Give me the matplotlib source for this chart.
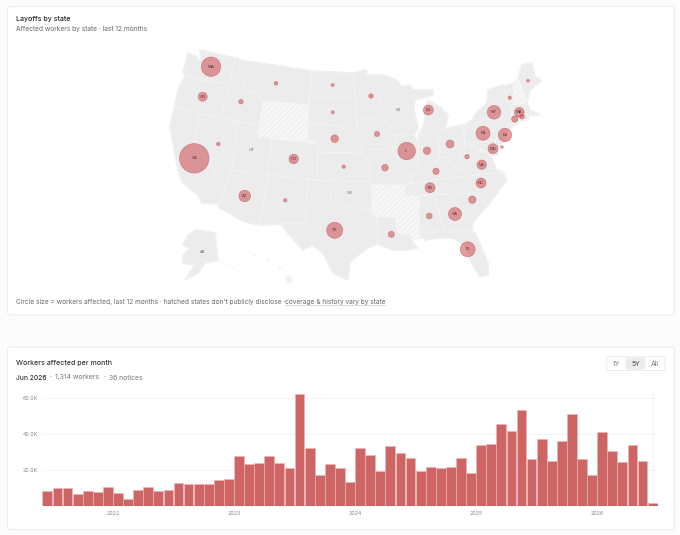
import matplotlib
matplotlib.use("Agg")
import matplotlib.pyplot as plt
from matplotlib.patches import Polygon, Circle, FancyBboxPatch
import numpy as np
import pandas as pd

plt.rcParams['font.family'] = ['Inter', 'DejaVu Sans']
plt.rcParams['hatch.linewidth'] = 0.3

#//////////////////////////////////////////////////////////////////////////////
# DATA

# monthly workers affected, in thousands, Jun 2021 to Jun 2026
monthly_workers = [8.1, 9.8, 9.6, 6.7, 8.0, 7.4, 10.4, 6.9, 3.9, 8.5, 10.4, 8.3, 8.9, 12.6, 12.2,
                   12.2, 11.9, 14.1, 14.8, 27.6, 23.3, 23.7, 27.8, 23.7, 20.9, 61.9, 32.0, 17.0,
                   23.3, 20.7, 13.1, 31.9, 28.1, 19.1, 33.0, 29.1, 26.3, 19.1, 21.3, 20.7, 21.5,
                   26.5, 18.0, 33.5, 34.3, 45.6, 41.5, 53.1, 25.7, 37.2, 24.6, 35.9, 50.7, 26.1,
                   17.2, 40.7, 30.2, 24.4, 33.5, 24.6, 1.3]
y_ticks = [20, 40, 60]
y_tick_labels = ['20.0K', '40.0K', '60.0K']

# workers affected by state, last 12 months, with the marker spot on the map
bubble_states = ['WA', 'OR', 'ID', 'MT', 'NV', 'CA', 'CO', 'AZ', 'NM', 'ND', 'SD', 'NE', 'KS', 'TX',
                 'MN', 'IA', 'MO', 'LA', 'IL', 'MI', 'IN', 'OH', 'KY', 'TN', 'AL', 'GA', 'FL', 'SC',
                 'NC', 'VA', 'WV', 'MD', 'DE', 'PA', 'NJ', 'NY', 'MA', 'CT', 'RI', 'VT', 'ME']
bubble_workers = [26100, 5600, 1340, 900, 900, 60000, 6100, 9300, 800, 625, 625, 4000, 800, 17800,
                  1340, 1880, 3000, 2500, 21000, 6900, 3800, 4400, 2800, 6900, 2300, 11700, 15600, 3800,
                  6900, 6100, 1340, 6900, 470, 13600, 12500, 12800, 6400, 2800, 1470, 800, 540]
bubble_x = [211, 202.7, 241, 276, 218.3, 194.3, 293.7, 244.7, 285.3, 332.7, 332.7, 334.7, 343.7, 334.7,
            371, 377, 385, 391.3, 406.7, 428.3, 427, 450, 436, 430, 429.3, 455, 467.7, 472.3,
            481, 481.7, 467, 493, 502, 483, 505, 494, 519.3, 514.7, 522, 509.7, 528]
bubble_y = [66.7, 96.7, 101.7, 83.3, 144, 158.3, 159, 196, 200.3, 85, 112.3, 138.7, 166.7, 230.3,
            96, 134, 167.7, 234.3, 151, 110, 150.7, 144, 171.3, 187.7, 216, 214, 249.3, 199.7,
            183, 164.7, 156.7, 148.7, 147, 133.3, 135, 112.3, 112.3, 119, 116.7, 97.7, 80.7]
quiet_states = ['UT', 'WI', 'OK', 'AK']
quiet_x = [251.7, 399, 349.3, 202.5]
quiet_y = [150, 110, 193, 252]
hatched_states = ['WY', 'AR', 'MS', 'NH']
faint_shapes = ['AKP', 'HI', 'HI2', 'HI3', 'HI4']

# state outlines, traced in image pixels
state_shapes = {
    'WA': [(200, 50), (235, 58), (230, 84), (215, 82), (200, 80), (185, 76), (183, 73), (188, 53), (197, 57), (199, 63), (201, 58)],
    'OR': [(185, 76), (200, 80), (215, 82), (230, 84), (230, 90), (224, 100), (222, 118), (200, 114), (175, 107), (178, 90)],
    'ID': [(235, 58), (240, 60), (239, 72), (245, 84), (247, 92), (257, 92), (263, 101), (260, 126), (222, 118), (224, 100), (230, 90), (230, 84)],
    'MT': [(240, 60), (312, 71), (309, 98), (308, 105), (263, 101), (257, 92), (247, 92), (245, 84), (239, 72)],
    'WY': [(263, 101), (308, 105), (307, 142), (258, 137)],
    'NV': [(200, 114), (222, 118), (238, 124), (232, 170), (228, 177), (225, 190), (195, 140)],
    'CA': [(175, 107), (200, 114), (195, 140), (225, 190), (220, 204), (202, 203), (199, 196), (182, 182), (178, 170), (170, 127), (172, 117)],
    'UT': [(238, 122), (260, 126), (258, 137), (272, 139), (268, 175), (232, 170)],
    'AZ': [(232, 170), (268, 175), (260, 225), (245, 222), (218, 207), (220, 204), (225, 190), (228, 177)],
    'CO': [(272, 139), (318, 144), (317, 180), (268, 175)],
    'NM': [(268, 175), (308, 179), (305, 223), (281, 222), (281, 224), (267, 225), (260, 225)],
    'TX': [(281, 224), (292, 238), (303, 250), (312, 245), (323, 253), (333, 273), (348, 280), (350, 262), (367, 248), (378, 244),
           (378, 233), (376, 217), (372, 210), (350, 207), (331, 203), (330, 182), (308, 179), (305, 223)],
    'OK': [(308, 179), (317, 180), (370, 182), (373, 216), (372, 210), (350, 207), (331, 203), (330, 182)],
    'KS': [(318, 152), (362, 153), (370, 162), (370, 182), (317, 180)],
    'NE': [(308, 123), (347, 127), (358, 131), (362, 150), (362, 153), (318, 152), (318, 142), (307, 140)],
    'SD': [(310, 98), (355, 98), (357, 122), (358, 131), (347, 127), (308, 123)],
    'ND': [(312, 71), (353, 73), (355, 98), (310, 98)],
    'MN': [(353, 73), (366, 70), (367, 75), (383, 75), (397, 80), (383, 92), (380, 102), (385, 120), (357, 120), (355, 98)],
    'IA': [(357, 120), (385, 120), (392, 128), (397, 135), (392, 149), (362, 150), (358, 131)],
    'MO': [(362, 150), (392, 149), (400, 163), (408, 172), (412, 183), (405, 185), (372, 185), (370, 182), (370, 162), (362, 153)],
    'AR': [(372, 185), (405, 185), (403, 195), (396, 217), (376, 217), (372, 210)],
    'LA': [(376, 217), (396, 217), (396, 225), (398, 233), (411, 234), (412, 242), (418, 248), (407, 250), (393, 250), (378, 244), (378, 233)],
    'MS': [(404, 193), (419, 193), (419, 238), (411, 240), (411, 234), (398, 233), (396, 225), (396, 217)],
    'AL': [(419, 196), (435, 195), (442, 223), (445, 232), (425, 232), (427, 238), (419, 238)],
    'GA': [(435, 195), (450, 194), (455, 202), (473, 222), (472, 232), (445, 232), (442, 223)],
    'FL': [(425, 232), (445, 232), (472, 232), (475, 233), (488, 263), (488, 275), (480, 277), (470, 260), (465, 245), (453, 238), (437, 238), (425, 240)],
    'SC': [(450, 194), (458, 193), (473, 193), (488, 205), (473, 222), (455, 202)],
    'NC': [(435, 193), (445, 183), (458, 177), (503, 172), (507, 180), (488, 205), (473, 193), (458, 193), (450, 194)],
    'TN': [(407, 184), (453, 177), (458, 177), (445, 183), (435, 193), (419, 196), (404, 195)],
    'KY': [(412, 183), (412, 176), (425, 171), (432, 163), (440, 157), (447, 158), (455, 165), (458, 172), (453, 177), (407, 184)],
    'VA': [(453, 177), (458, 172), (470, 165), (478, 150), (490, 155), (497, 170), (503, 172), (458, 177)],
    'WV': [(455, 165), (465, 147), (468, 143), (472, 146), (480, 148), (478, 150), (470, 165), (458, 172)],
    'MD': [(468, 143), (495, 140), (498, 155), (490, 155), (480, 148), (472, 146)],
    'IL': [(392, 135), (414, 135), (418, 145), (419, 165), (412, 176), (412, 183), (408, 172), (400, 163), (392, 149), (397, 135)],
    'IN': [(418, 135), (437, 133), (440, 157), (432, 163), (425, 171), (412, 176), (419, 165), (418, 145)],
    'OH': [(437, 133), (448, 128), (463, 125), (465, 147), (455, 165), (447, 158), (440, 157)],
    'WI': [(397, 80), (405, 93), (415, 98), (414, 110), (418, 128), (414, 135), (392, 135), (392, 128), (385, 120), (380, 102), (383, 92)],
    'MI': [(428, 100), (440, 107), (448, 115), (445, 128), (437, 133), (418, 135), (424, 125), (425, 113)],
    'UP': [(395, 88), (410, 85), (413, 90), (433, 90), (433, 95), (415, 100), (405, 93)],
    'PA': [(464, 125), (472, 120), (497, 117), (500, 130), (495, 140), (468, 143), (465, 147)],
    'NY': [(472, 120), (477, 112), (487, 103), (488, 90), (503, 85), (511, 105), (512, 117), (508, 125), (500, 127), (497, 117)],
    'NJ': [(497, 117), (508, 125), (505, 140), (497, 148), (495, 140), (500, 130)],
    'VT': [(503, 87), (514, 83), (513, 103), (511, 105)],
    'NH': [(514, 83), (518, 78), (527, 102), (516, 105), (513, 103)],
    'ME': [(518, 78), (522, 65), (532, 63), (535, 77), (542, 80), (530, 90), (527, 102)],
    'MA': [(511, 105), (527, 103), (530, 110), (540, 115), (530, 115), (512, 113)],
    'CT': [(512, 113), (522, 112), (523, 120), (510, 125)],
    'RI': [(522, 112), (528, 115), (528, 120), (523, 120)],
    'LI': [(505, 128), (520, 120), (518, 123), (507, 130)],
    'AK': [(188, 235), (197, 230), (215, 233), (218, 260), (205, 263), (198, 273), (185, 280), (195, 265), (183, 263), (183, 255), (190, 248), (183, 245)],
    'AKP': [(218, 260), (242, 272), (232, 267)],
    'HI': [(285, 278), (290, 275), (293, 281), (288, 284)],
    'HI2': [(253, 254), (256, 255), (254, 256)],
    'HI3': [(266, 259), (270, 261), (267, 261)],
    'HI4': [(278, 266), (283, 268), (279, 268)],
}

#//////////////////////////////////////////////////////////////////////////////
# PAGE AND CARDS

W, H = 680, 535
fig = plt.figure(figsize=(W / 100, H / 100), dpi=100, facecolor='#fcfcfc')
page = fig.add_axes([0, 0, 1, 1])
page.set_xlim(0, W)
page.set_ylim(H, 0)
page.axis('off')


def card(x0, y0, x1, y1, face='white', edge='#ececec', r=3):
    page.add_patch(FancyBboxPatch((x0 + r, y0 + r), x1 - x0 - 2 * r, y1 - y0 - 2 * r,
                                  boxstyle='round,pad=%g,rounding_size=%g' % (r, r),
                                  fc=face, ec=edge, lw=0.7, zorder=1))


card(7.5, 6.5, 674.5, 315)
card(7.5, 347, 674.5, 529.5)

#//////////////////////////////////////////////////////////////////////////////
# MAP

# thick same-colour stroke first so the traced outlines leave no gaps between states
for name, pts in state_shapes.items():
    if name not in faint_shapes:
        page.add_patch(Polygon(pts, closed=True, fc='#ececec', ec='#ececec', lw=1.2, zorder=2))

for name, pts in state_shapes.items():
    if name in faint_shapes:
        page.add_patch(Polygon(pts, closed=True, fc='#f2f2f2', ec='#f6f6f6', lw=0.3, zorder=2.5))
    elif name in hatched_states:
        page.add_patch(Polygon(pts, closed=True, fc='#f6f6f6', ec='none', zorder=2.5))
        # the hatch takes the patch edge colour, so it goes on its own patch with no stroke
        page.add_patch(Polygon(pts, closed=True, fc='none', ec='#e3e3e3', lw=0, hatch='//////', zorder=2.6))
        page.add_patch(Polygon(pts, closed=True, fc='none', ec='#f8f8f8', lw=0.4, zorder=2.7))
    else:
        page.add_patch(Polygon(pts, closed=True, fc='#ececec', ec='#f6f6f6', lw=0.4, zorder=2.5))

# circle area goes with the worker count
for st, n, x, y in zip(bubble_states, bubble_workers, bubble_x, bubble_y):
    r = 0.06 * np.sqrt(n)
    page.add_patch(Circle((x, y), r, fc='#cc4448', ec='#c24046', alpha=0.52, lw=0.5, zorder=3))
    if r >= 4.4:
        page.text(x, y, st, fontsize=3, color='#5a2a2c', ha='center', va='center', zorder=4)

for st, x, y in zip(quiet_states, quiet_x, quiet_y):
    page.text(x, y, st, fontsize=3, color='#666666', ha='center', va='center', zorder=4)

#//////////////////////////////////////////////////////////////////////////////
# TEXT

page.text(16, 19.5, 'Layoffs by state', fontsize=5.05, color='#222222', va='center', fontweight='medium', zorder=5)
page.text(16, 29.5, 'Affected workers by state · last 12 months', fontsize=4.75, color='#666666', va='center', zorder=5)
page.text(16, 302, "Circle size = workers affected, last 12 months · hatched states don't publicly disclose ·",
          fontsize=4.72, color='#666666', va='center', zorder=5)
page.text(285, 302, 'coverage & history vary by state', fontsize=4.72, color='#666666', va='center', zorder=5)
page.plot([285, 385], [305.3, 305.3], color='#bbbbbb', lw=0.4, zorder=5)

page.text(16, 363.5, 'Workers affected per month', fontsize=5.05, color='#333333', va='center', fontweight='medium', zorder=5)
page.text(16, 377.5, 'Jun 2026', fontsize=4.85, color='#333333', va='center', fontweight='medium', zorder=5)
page.text(50.5, 377.5, '·', fontsize=4.85, color='#777777', ha='center', va='center', zorder=5)
page.text(55, 377.5, '1,314 workers', fontsize=4.95, color='#777777', va='center', zorder=5)
page.text(104.5, 377.5, '·', fontsize=4.85, color='#777777', ha='center', va='center', zorder=5)
page.text(109, 377.5, '36 notices', fontsize=4.85, color='#777777', va='center', zorder=5)

# range toggle
card(606.7, 356.7, 665, 370.5, r=2)
card(626, 358, 645, 369, face='#ececec', edge='#ececec', r=2)
for label, x, col in zip(['1Y', '5Y', 'All'], [616.5, 635.5, 654.5], ['#777777', '#444444', '#777777']):
    page.text(x, 363.5, label, fontsize=5, color=col, ha='center', va='center', zorder=5)

#//////////////////////////////////////////////////////////////////////////////
# BARS

months = pd.date_range('2021-06-01', periods=len(monthly_workers), freq='MS')
x_pos = np.arange(len(months)) + 0.5
year_ticks = [i for i, m in enumerate(months) if m.month == 1]
year_labels = [str(months[i].year) for i in year_ticks]

ax = fig.add_axes([42.3 / W, 1 - 505.7 / H, 615.4 / W, 114 / H], facecolor='none')
ax.bar(x_pos, monthly_workers, width=0.97, color='#cd6565', edgecolor='#eeb7b7', linewidth=0.4, zorder=3)
ax.set_xlim(0, len(months))
ax.set_ylim(0, 114 / 1.8)
ax.set_yticks(y_ticks)
ax.set_yticklabels(y_tick_labels)
ax.set_xticks(year_ticks)
ax.set_xticklabels(year_labels)
ax.tick_params(axis='both', length=0, labelsize=3.8, labelcolor='#888888')
ax.tick_params(axis='y', pad=3.5)
ax.tick_params(axis='x', pad=3.8)
ax.grid(axis='y', color='#f3f3f3', lw=0.6, zorder=0)
ax.axvline(60.55, color='#f3f3f3', lw=0.6, zorder=0)
for side in ax.spines.values():
    side.set_visible(False)

fig.savefig('out.png', dpi=100, facecolor=fig.get_facecolor())
